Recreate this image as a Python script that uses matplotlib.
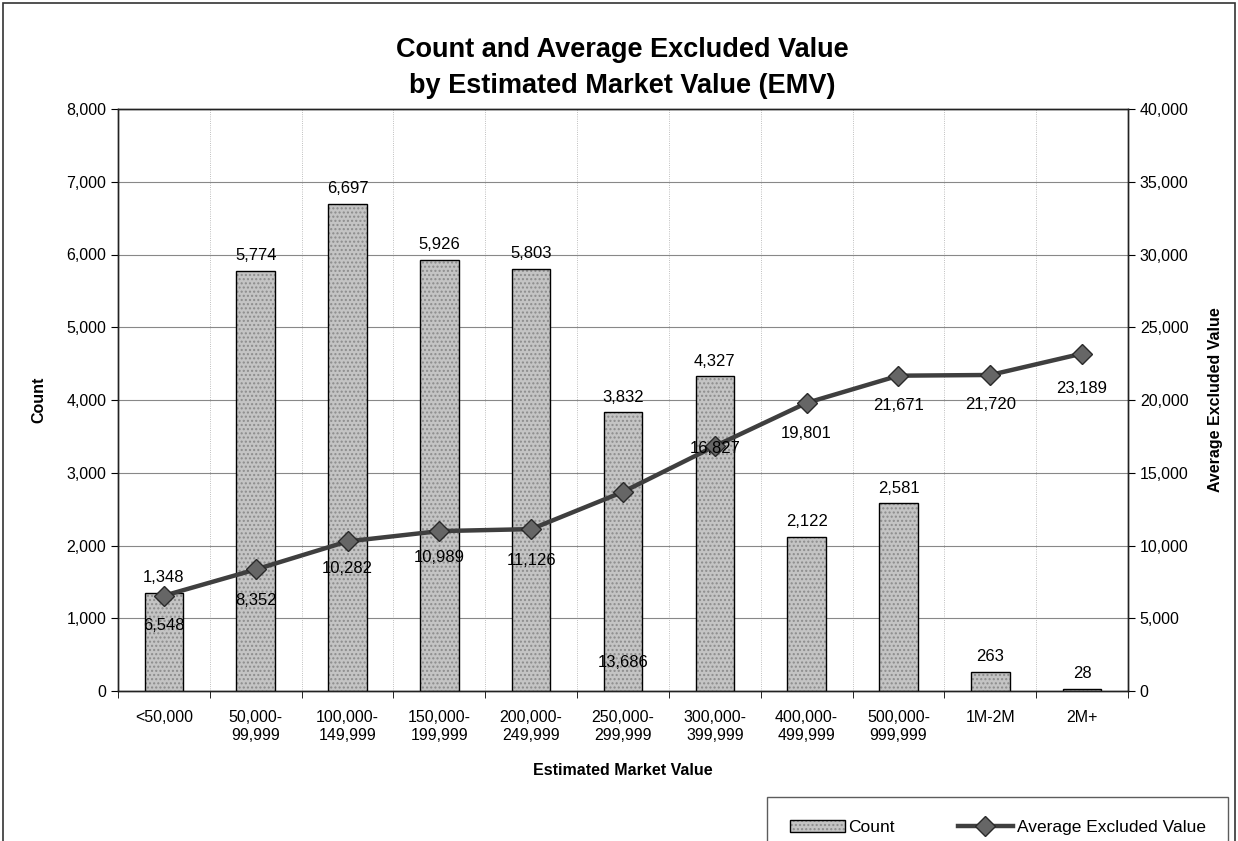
import numpy as np
import matplotlib
matplotlib.use("Agg")
import matplotlib.pyplot as plt
from matplotlib.patches import Rectangle

plt.rcParams['font.family'] = ['Liberation Sans', 'DejaVu Sans']

# Data
categories = ['<50,000', '50,000-\n99,999', '100,000-\n149,999', '150,000-\n199,999',
              '200,000-\n249,999', '250,000-\n299,999', '300,000-\n399,999',
              '400,000-\n499,999', '500,000-\n999,999', '1M-2M', '2M+']
counts = [1348, 5774, 6697, 5926, 5803, 3832, 4327, 2122, 2581, 263, 28]
avg_excluded = [6548, 8352, 10282, 10989, 11126, 13686, 16827, 19801, 21671, 21720, 23189]

# label offsets below line markers (pixels)
line_label_dy = [-30, -31, -27, -26, -31, -171, -2, -31, -30, -30, -35]

x = np.arange(len(categories))

fig = plt.figure(figsize=(12.38, 8.41), dpi=100)
ax = fig.add_axes([118/1238, 1 - 691/841, 1010/1238, 582/841])
ax2 = ax.twinx()
ax.set_zorder(ax2.get_zorder() - 1)
ax.patch.set_visible(True)
ax2.patch.set_visible(False)

# Bars
bars = ax.bar(x, counts, width=0.42, color='#c4c4c4', edgecolor='black', linewidth=1.0,
              hatch='....', label='Count', zorder=3)
for b in bars:
    b._hatch_color = (0.55, 0.55, 0.55, 1.0)
for xi, c in zip(x, counts):
    ax.annotate(f"{c:,}", (xi, c), xytext=(0, 15), textcoords='offset pixels',
                ha='center', va='center', fontsize=12, zorder=5)

ax.set_xlim(-0.5, len(categories) - 0.5)
ax.set_ylim(0, 8000)
ax.set_yticks(np.arange(0, 8001, 1000))
ax.set_yticklabels([f"{v:,}" for v in range(0, 8001, 1000)], fontsize=11.5)
ax.set_xticks(x)
ax.set_xticklabels(categories, fontsize=11.5, linespacing=1.25)
ax.tick_params(axis='x', length=0, pad=14)
ax.set_xticks(np.arange(-0.5, len(categories), 1), minor=True)
ax.tick_params(axis='x', which='minor', length=5, direction='out')
ax.tick_params(axis='y', length=5, direction='out')
ax.grid(axis='y', color='#888888', linewidth=0.8, zorder=0)
ax.grid(axis='x', which='minor', color='#aaaaaa', linewidth=0.6, linestyle=':', zorder=0)
ax.set_axisbelow(True)
ax.set_ylabel("Count", fontsize=11.5, fontweight='bold', labelpad=14)
ax.set_xlabel("Estimated Market Value", fontsize=11.5, fontweight='bold', labelpad=14)

# Line
line, = ax2.plot(x, avg_excluded, color='#3f3f3f', linewidth=3.2, marker='D', markersize=10,
                 markerfacecolor='#666666', markeredgecolor='#2a2a2a', label='Average Excluded Value',
                 zorder=4)
ax2.set_ylim(0, 40000)
ax2.set_yticks(np.arange(0, 40001, 5000))
ax2.set_yticklabels([f"{v:,}" for v in range(0, 40001, 5000)], fontsize=11.5)
ax2.tick_params(axis='y', length=5, direction='out')
ax2.set_ylabel("Average Excluded Value", fontsize=11.5, fontweight='bold', labelpad=14)
for xi, v, dy in zip(x, avg_excluded, line_label_dy):
    ax2.annotate(f"{v:,}", (xi, v), xytext=(0, dy), textcoords='offset pixels',
                 ha='center', va='center', fontsize=12, zorder=6)

for a in (ax, ax2):
    for s in a.spines.values():
        s.set_color('#222222')
        s.set_linewidth(1.0)

# Title
fig.text(0.503, 1 - 50/841, "Count and Average Excluded Value", ha='center', va='center',
         fontsize=19.5, fontweight='bold')
fig.text(0.503, 1 - 86/841, "by Estimated Market Value (EMV)", ha='center', va='center',
         fontsize=19.5, fontweight='bold')

# Legend
leg = fig.legend(handles=[bars, line], loc='upper left', ncol=2,
                 bbox_to_anchor=(767/1238, 1 - 797/841), fontsize=12.5, frameon=True,
                 fancybox=False, edgecolor='#333333', borderpad=1.3, borderaxespad=0,
                 columnspacing=3.6, handlelength=3.2, handletextpad=0.2)
leg.get_frame().set_linewidth(1.0)
leg.set_bbox_to_anchor((767/1238, 1 - 797/841), transform=fig.transFigure)
leg._legend_box.sep = 0

# Outer frame
fig.patches.append(Rectangle((3/1238, -0.05), 1232/1238, 1.05 - 3/841, transform=fig.transFigure,
                             fill=False, edgecolor='#333333', linewidth=1.2))

fig.savefig("out.png", dpi=100)
